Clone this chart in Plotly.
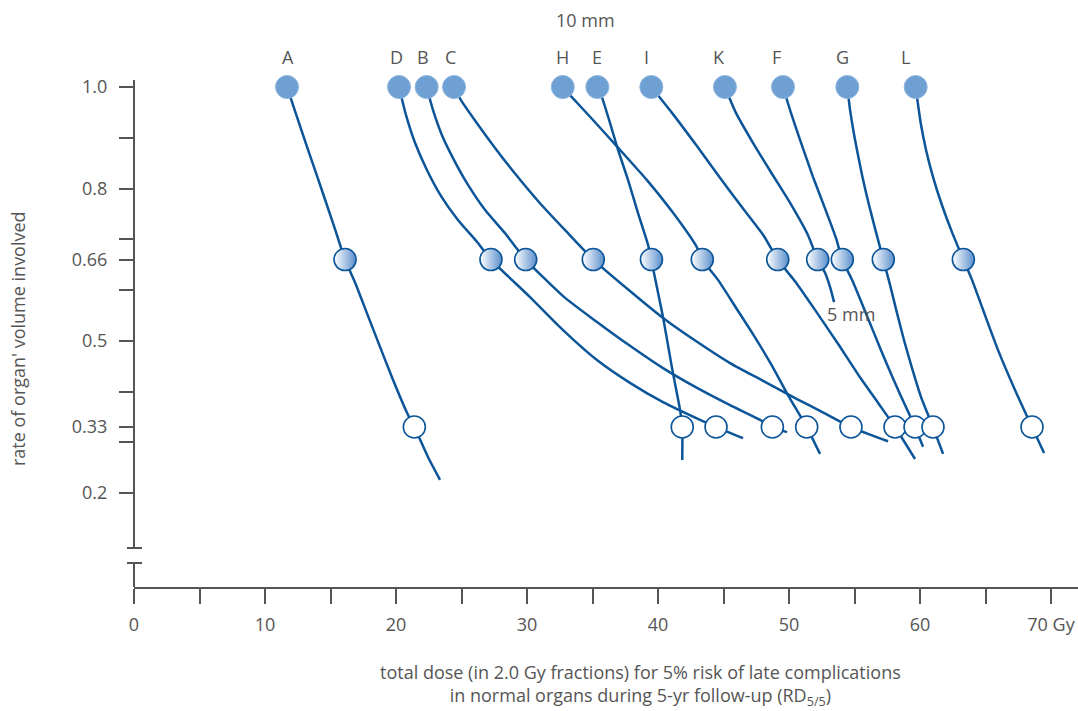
import plotly.graph_objects as go

# ---- data (dose in Gy, rate of organ volume) ----
letters = ["A", "D", "B", "C", "H", "E", "I", "K", "F", "G", "L"]
dose_full = [11.68, 20.23, 22.34, 24.43, 32.73, 35.37, 39.49, 45.11, 49.54, 54.45, 59.67]
dose_two_thirds = [16.11, 27.25, 29.90, 35.06, 43.38, 39.50, 49.14, 52.19, 54.07, 57.20, 63.31]
third_letters = ["A", "D", "B", "C", "H", "E", "I", "F", "G", "L"]
dose_one_third = [21.40, 44.43, 48.73, 54.73, 51.35, 41.85, 58.09, 59.62, 60.99, 68.55]
label_dose = [11.78, 20.0, 22.08, 24.18, 32.73, 35.37, 39.14, 44.68, 49.06, 54.07, 58.91]

A_dose = [11.68, 12.44, 13.21, 13.97, 14.73, 15.42, 16.11, 16.95, 17.86, 18.78, 19.77, 20.84, 21.40, 22.44, 23.36]
A_vol = [1.0, 0.941, 0.882, 0.825, 0.767, 0.714, 0.66, 0.610, 0.549, 0.488, 0.423, 0.358, 0.33, 0.271, 0.226]
D_dose = [20.23, 20.76, 21.45, 22.37, 23.44, 24.73, 26.18, 27.25, 30.23, 32.75, 35.34, 37.86, 40.38, 43.21, 44.43, 46.49]
D_vol = [1.0, 0.945, 0.890, 0.836, 0.785, 0.738, 0.695, 0.66, 0.586, 0.521, 0.462, 0.417, 0.379, 0.344, 0.33, 0.308]
B_dose = [22.34, 22.82, 23.51, 24.43, 25.50, 26.79, 28.32, 29.90, 32.75, 35.34, 37.86, 40.38, 42.98, 45.50, 47.79, 48.73, 49.85]
B_vol = [1.0, 0.955, 0.905, 0.856, 0.807, 0.758, 0.712, 0.66, 0.588, 0.537, 0.490, 0.446, 0.407, 0.373, 0.344, 0.33, 0.320]
C_dose = [24.43, 24.96, 26.11, 27.56, 29.16, 30.99, 32.98, 35.06, 37.86, 40.38, 42.98, 45.50, 48.02, 50.61, 52.37, 54.73, 57.56]
C_vol = [1.0, 0.974, 0.931, 0.880, 0.827, 0.771, 0.716, 0.66, 0.598, 0.545, 0.498, 0.456, 0.421, 0.385, 0.362, 0.33, 0.302]
H_dose = [32.73, 33.28, 35.04, 37.10, 39.14, 41.15, 42.95, 43.38, 44.58, 45.88, 47.25, 48.63, 49.92, 51.35, 52.37]
H_vol = [1.0, 0.984, 0.935, 0.876, 0.817, 0.752, 0.685, 0.66, 0.620, 0.568, 0.513, 0.454, 0.393, 0.33, 0.277]
E_dose = [35.37, 35.70, 36.34, 36.95, 37.71, 38.47, 39.24, 39.50, 39.62, 40.38, 41.05, 41.68, 41.85, 41.85]
E_vol = [1.0, 0.981, 0.929, 0.876, 0.817, 0.752, 0.689, 0.66, 0.643, 0.547, 0.449, 0.364, 0.33, 0.265]
I_dose = [39.49, 41.07, 42.90, 44.73, 46.56, 48.09, 49.14, 50.61, 52.14, 53.74, 55.34, 56.87, 58.09, 59.62]
I_vol = [1.0, 0.949, 0.886, 0.821, 0.758, 0.706, 0.66, 0.612, 0.555, 0.494, 0.431, 0.375, 0.33, 0.267]
K_dose = [45.11, 45.95, 47.25, 48.60, 50.05, 51.45, 52.19, 52.75, 53.13, 53.44]
K_vol = [1.0, 0.949, 0.890, 0.833, 0.773, 0.708, 0.66, 0.634, 0.606, 0.576]
F_dose = [49.54, 50.15, 50.92, 51.83, 52.82, 53.59, 54.07, 54.81, 55.65, 56.49, 57.40, 58.40, 59.62, 60.23]
F_vol = [1.0, 0.949, 0.890, 0.823, 0.756, 0.702, 0.66, 0.620, 0.568, 0.515, 0.458, 0.399, 0.33, 0.291]
G_dose = [54.45, 54.66, 55.04, 55.57, 56.11, 56.64, 57.20, 57.71, 58.24, 58.78, 59.39, 60.08, 60.99, 61.76]
G_vol = [1.0, 0.955, 0.896, 0.827, 0.767, 0.714, 0.66, 0.610, 0.555, 0.501, 0.446, 0.389, 0.33, 0.277]
L_dose = [59.67, 59.85, 60.08, 60.46, 60.99, 61.68, 62.44, 63.31, 63.97, 64.81, 65.95, 67.25, 68.55, 69.47]
L_vol = [1.0, 0.965, 0.925, 0.876, 0.823, 0.767, 0.714, 0.66, 0.620, 0.561, 0.482, 0.403, 0.33, 0.279]

curves = [(A_dose, A_vol), (D_dose, D_vol), (B_dose, B_vol), (C_dose, C_vol), (H_dose, H_vol),
          (E_dose, E_vol), (I_dose, I_vol), (K_dose, K_vol), (F_dose, F_vol), (G_dose, G_vol),
          (L_dose, L_vol)]

x_ticks = [0, 5, 10, 15, 20, 25, 30, 35, 40, 45, 50, 55, 60, 65, 70]
x_ticktext = ["0", "", "10", "", "20", "", "30", "", "40", "", "50", "", "60", "", "70 Gy"]
y_ticks = [1.0, 0.9, 0.8, 0.7, 0.66, 0.6, 0.5, 0.4, 0.33, 0.3, 0.2]
y_ticktext = ["1.0", "", "0.8", "", "0.66", "", "0.5", "", "0.33", "", "0.2"]

# ---- style ----
LINE = "#0b5598"
FILL = "#6fa0d4"
TXT = "#555555"
AX = "#555555"
FONT = "Open Sans"
FS = 18

fig = go.Figure()
for xd, yd in curves:
    fig.add_trace(go.Scatter(x=xd, y=yd, mode="lines",
                             line=dict(color=LINE, width=2.5, shape="spline", smoothing=0.6),
                             hoverinfo="skip", showlegend=False, cliponaxis=False))

fig.add_trace(go.Scatter(x=dose_full, y=[1.0] * len(dose_full), mode="markers",
                         marker=dict(size=23, color=FILL, line=dict(color="#8db5e0", width=1)),
                         text=letters, showlegend=False, cliponaxis=False))
fig.add_trace(go.Scatter(x=dose_two_thirds, y=[0.66] * len(dose_two_thirds), mode="markers",
                         marker=dict(size=22, color="white",
                                     gradient=dict(type="horizontal", color="#5b8fcc"),
                                     line=dict(color=LINE, width=1.6)),
                         text=letters, showlegend=False, cliponaxis=False))
fig.add_trace(go.Scatter(x=dose_one_third, y=[0.33] * len(dose_one_third), mode="markers",
                         marker=dict(size=22, color="white", line=dict(color=LINE, width=1.6)),
                         text=third_letters, showlegend=False, cliponaxis=False))

annotations = []
for lab, xv in zip(letters, label_dose):
    annotations.append(dict(x=xv, y=1.0444, xref="x", yref="paper", text=lab, showarrow=False,
                            yanchor="middle", font=dict(family=FONT, size=FS, color=TXT)))
annotations.append(dict(x=34.5, y=1.1183, xref="x", yref="paper", text="10 mm", showarrow=False,
                        yanchor="middle", font=dict(family=FONT, size=FS, color=TXT)))
annotations.append(dict(x=54.73, y=0.553, xref="x", yref="y", text="5 mm", showarrow=False,
                        yanchor="middle", font=dict(family=FONT, size=FS, color=TXT)))
annotations.append(dict(x=0.537, y=-0.193, xref="paper", yref="paper",
                        text="total dose (in 2.0 Gy fractions) for 5% risk of late complications<br>"
                             "in normal organs during 5-yr follow-up (RD<sub>5/5</sub>)",
                        showarrow=False, align="center", xanchor="center", yanchor="middle",
                        font=dict(family=FONT, size=FS, color=TXT)))
annotations.append(dict(x=-0.1229, y=0.491, xref="paper", yref="paper",
                        text="rate of organ' volume involved", textangle=-90, showarrow=False,
                        xanchor="center", yanchor="middle",
                        font=dict(family=FONT, size=FS, color=TXT)))

shapes = [
    dict(type="line", xref="paper", yref="paper", x0=0, x1=0, y0=0, y1=0.0473,
         line=dict(color=AX, width=2)),
    dict(type="line", xref="paper", yref="paper", x0=0, x1=0, y0=0.0769, y1=1,
         line=dict(color=AX, width=2)),
    dict(type="line", xref="paper", yref="paper", x0=-0.0074, x1=0.0085, y0=0.0473, y1=0.0473,
         line=dict(color=AX, width=2)),
    dict(type="line", xref="paper", yref="paper", x0=-0.0074, x1=0.0085, y0=0.0769, y1=0.0769,
         line=dict(color=AX, width=2)),
]

fig.update_layout(
    width=1078, height=711,
    margin=dict(l=134, r=0, t=80, b=124),
    paper_bgcolor="white", plot_bgcolor="white",
    font=dict(family=FONT, size=FS, color=TXT),
    annotations=annotations, shapes=shapes,
    xaxis=dict(range=[0, 72.06], tickvals=x_ticks, ticktext=x_ticktext, ticks="outside",
               ticklen=15, tickwidth=2, tickcolor=AX, showline=True, linecolor=AX, linewidth=2,
               showgrid=False, zeroline=False, tickfont=dict(family=FONT, size=FS, color=TXT),
               ticklabelstandoff=5),
    yaxis=dict(range=[0.01478, 1.01379], tickvals=y_ticks, ticktext=y_ticktext, ticks="outside",
               ticklen=14, tickwidth=2, tickcolor=AX, showline=False, showgrid=False,
               zeroline=False, tickfont=dict(family=FONT, size=FS, color=TXT),
               ticklabelstandoff=8),
)

fig.write_html("out.html", config={"displayModeBar": False},
               post_script="document.body.style.margin='0px';")
